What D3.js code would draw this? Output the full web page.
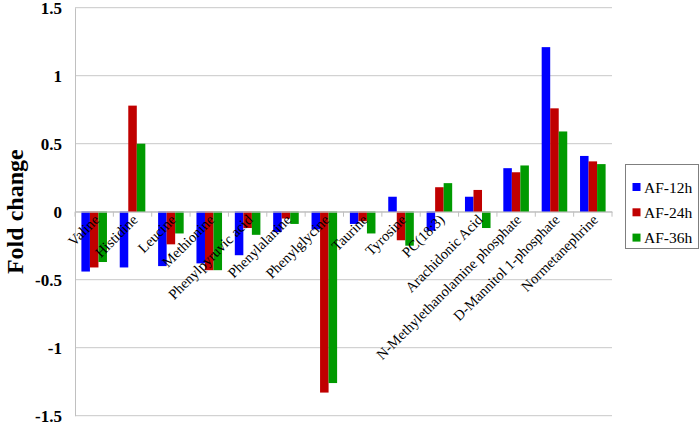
<!DOCTYPE html>
<html><head><meta charset="utf-8">
<script src="https://cdn.jsdelivr.net/npm/d3@7"></script>
<style>body{margin:0;background:#fff}svg{display:block}</style>
</head><body>
<svg id="c" width="700" height="424"></svg>
<script>
const categories = ["Valine","Histidine","Leucine","Methionine","Phenylpyruvic acid","Phenylalanine","Phenylglycine","Taurine","Tyrosine","PC(18:3)","Arachidonic Acid","N-Methylethanolamine phosphate","D-Mannitol 1-phosphate","Normetanephrine"];
const seriesNames = ["AF-12h","AF-24h","AF-36h"];
const af12 = [-0.44,-0.41,-0.40,-0.38,-0.32,-0.15,-0.13,-0.09,0.11,-0.14,0.11,0.32,1.21,0.41];
const af24 = [-0.41,0.78,-0.24,-0.43,-0.12,-0.05,-1.33,-0.07,-0.21,0.18,0.16,0.29,0.76,0.37];
const af36 = [-0.37,0.50,-0.16,-0.43,-0.17,-0.09,-1.26,-0.16,-0.25,0.21,-0.12,0.34,0.59,0.35];
const yTicks = [1.5,1,0.5,0,-0.5,-1,-1.5];
const colors = ["#0000FF","#C00000","#009A00"];

(function () {
const series = [af12, af24, af36];
const svg = d3.select("#c");
const mLeft = 75, mRight = 612, mTop = 7.7, mBottom = 415.7;

const x = d3.scaleBand().domain(categories).range([mLeft, mRight]).paddingInner(0).paddingOuter(0);
const xs = d3.scaleBand().domain(seriesNames).range([0, x.bandwidth()]).paddingInner(0).paddingOuter(0.75);
const y = d3.scaleLinear().domain([-1.5, 1.5]).range([mBottom, mTop]);

svg.append("g").selectAll("line").data(yTicks).join("line")
  .attr("x1", mLeft).attr("x2", mRight)
  .attr("y1", d => y(d)).attr("y2", d => y(d))
  .attr("stroke", "#C8C8C8").attr("stroke-width", 1);

const yAxis = d3.axisLeft(y).tickValues(yTicks).tickSize(0).tickPadding(13).tickFormat(d => String(d));
const ga = svg.append("g").attr("transform", `translate(${mLeft},0)`).call(yAxis);
ga.select(".domain").attr("stroke", "#C0C0C0");
ga.selectAll("text").attr("font-family", "'Liberation Serif','Times New Roman',serif")
  .attr("font-size", 17).attr("font-weight", "bold").attr("fill", "#000");

const g = svg.append("g");
series.forEach((vals, si) => {
  g.append("g").selectAll("rect").data(vals).join("rect")
    .attr("x", (d, i) => x(categories[i]) + xs(seriesNames[si]))
    .attr("width", xs.bandwidth())
    .attr("y", d => y(Math.max(0, d)))
    .attr("height", d => Math.abs(y(d) - y(0)))
    .attr("fill", colors[si]);
});

const xAxis = d3.axisBottom(x).tickSize(0).tickFormat("");
const gx = svg.append("g").attr("transform", `translate(0,${y(0)})`).call(xAxis);
gx.select(".domain").attr("stroke", "#C0C0C0");
const boundaries = categories.map(c => x(c)).concat([mRight]);
svg.append("g").selectAll("line").data(boundaries).join("line")
  .attr("x1", d => d).attr("x2", d => d)
  .attr("y1", y(0)).attr("y2", y(0) + 5)
  .attr("stroke", "#C0C0C0");

svg.append("g").selectAll("text").data(categories).join("text")
  .attr("transform", d => `translate(${x(d) + x.bandwidth()/2 + 6},${y(0) + 9}) rotate(-45)`)
  .attr("text-anchor", "end")
  .attr("font-family", "'Liberation Serif','Times New Roman',serif")
  .attr("font-size", 14.5).attr("fill", "#000")
  .text(d => d);

svg.append("text")
  .attr("transform", `translate(23,${y(0)}) rotate(-90)`)
  .attr("text-anchor", "middle")
  .attr("font-family", "'Liberation Serif','Times New Roman',serif")
  .attr("font-size", 24).attr("font-weight", "bold")
  .text("Fold change");

const lg = svg.append("g");
lg.append("rect").attr("x", 625.5).attr("y", 164.5).attr("width", 73).attr("height", 84)
  .attr("fill", "#fff").attr("stroke", "#7F7F7F");
seriesNames.forEach((s, i) => {
  const cy = 187 + i * 25.3;
  lg.append("rect").attr("x", 632.5).attr("y", cy - 4).attr("width", 8).attr("height", 8).attr("fill", colors[i]);
  lg.append("text").attr("x", 644).attr("y", cy + 5.5)
    .attr("font-family", "'Liberation Serif','Times New Roman',serif")
    .attr("font-size", 15.5).attr("fill", "#000").text(s);
});
})();
</script>
</body></html>
